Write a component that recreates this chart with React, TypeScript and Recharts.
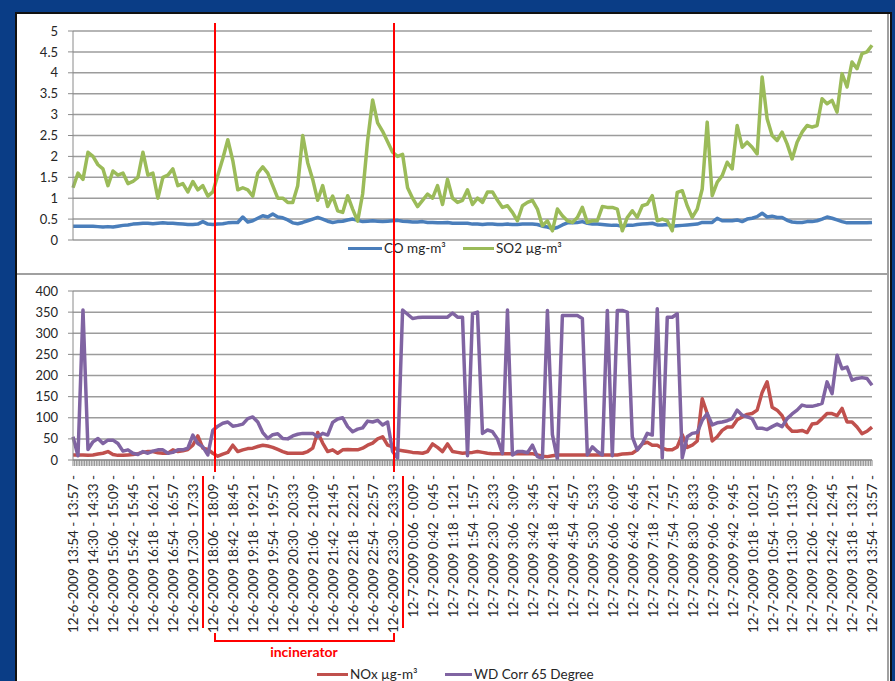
import { LineChart, Line, XAxis, YAxis, CartesianGrid } from 'recharts'

// one category every 9 minutes, 12-6-2009 13:54 .. 12-7-2009 13:54
const TICK_LABELS = [
  '12-6-2009 13:54 - 13:57 -', '12-6-2009 14:30 - 14:33 -', '12-6-2009 15:06 - 15:09 -',
  '12-6-2009 15:42 - 15:45 -', '12-6-2009 16:18 - 16:21 -', '12-6-2009 16:54 - 16:57 -',
  '12-6-2009 17:30 - 17:33 -', '12-6-2009 18:06 - 18:09 -', '12-6-2009 18:42 - 18:45 -',
  '12-6-2009 19:18 - 19:21 -', '12-6-2009 19:54 - 19:57 -', '12-6-2009 20:30 - 20:33 -',
  '12-6-2009 21:06 - 21:09 -', '12-6-2009 21:42 - 21:45 -', '12-6-2009 22:18 - 22:21 -',
  '12-6-2009 22:54 - 22:57 -', '12-6-2009 23:30 - 23:33 -', '12-7-2009 0:06 - 0:09 -',
  '12-7-2009 0:42 - 0:45 -', '12-7-2009 1:18 - 1:21 -', '12-7-2009 1:54 - 1:57 -',
  '12-7-2009 2:30 - 2:33 -', '12-7-2009 3:06 - 3:09 -', '12-7-2009 3:42 - 3:45 -',
  '12-7-2009 4:18 - 4:21 -', '12-7-2009 4:54 - 4:57 -', '12-7-2009 5:30 - 5:33 -',
  '12-7-2009 6:06 - 6:09 -', '12-7-2009 6:42 - 6:45 -', '12-7-2009 7:18 - 7:21 -',
  '12-7-2009 7:54 - 7:57 -', '12-7-2009 8:30 - 8:33 -', '12-7-2009 9:06 - 9:09 -',
  '12-7-2009 9:42 - 9:45 -', '12-7-2009 10:18 - 10:21 -', '12-7-2009 10:54 - 10:57 -',
  '12-7-2009 11:30 - 11:33 -', '12-7-2009 12:06 - 12:09 -', '12-7-2009 12:42 - 12:45 -',
  '12-7-2009 13:18 - 13:21 -', '12-7-2009 13:54 - 13:57 -',
]
const LABEL_EVERY = 4

const CO = [
  0.33, 0.33, 0.33, 0.33, 0.33, 0.32, 0.31, 0.32, 0.31, 0.33,
  0.35, 0.36, 0.38, 0.39, 0.4, 0.4, 0.39, 0.4, 0.41, 0.4,
  0.4, 0.39, 0.38, 0.37, 0.37, 0.38, 0.44, 0.38, 0.37, 0.38,
  0.39, 0.41, 0.42, 0.42, 0.55, 0.43, 0.46, 0.52, 0.58, 0.55,
  0.62, 0.55, 0.53, 0.48, 0.41, 0.39, 0.42, 0.46, 0.5, 0.54,
  0.5, 0.45, 0.42, 0.44, 0.45, 0.48, 0.5, 0.47, 0.44, 0.45,
  0.46, 0.45, 0.44, 0.45, 0.46, 0.47, 0.45, 0.44, 0.43, 0.43,
  0.44, 0.42, 0.42, 0.41, 0.41, 0.42, 0.4, 0.4, 0.4, 0.4,
  0.38, 0.38, 0.37, 0.38, 0.38, 0.37, 0.37, 0.38, 0.37, 0.37,
  0.38, 0.38, 0.38, 0.37, 0.33, 0.31, 0.27, 0.3, 0.36, 0.41,
  0.41, 0.42, 0.44, 0.4, 0.38, 0.38, 0.37, 0.36, 0.35, 0.35,
  0.33, 0.35, 0.35, 0.37, 0.38, 0.39, 0.4, 0.36, 0.36, 0.37,
  0.33, 0.34, 0.35, 0.36, 0.37, 0.38, 0.42, 0.42, 0.42, 0.52,
  0.46, 0.46, 0.46, 0.48, 0.44, 0.5, 0.52, 0.56, 0.64, 0.55,
  0.57, 0.54, 0.54, 0.47, 0.43, 0.42, 0.42, 0.44, 0.44, 0.46,
  0.5, 0.55, 0.52, 0.48, 0.44, 0.41, 0.41, 0.41, 0.41, 0.41, 0.42,
]

const SO2 = [
  1.25, 1.6, 1.45, 2.1, 2.0, 1.8, 1.7, 1.3, 1.65, 1.55,
  1.6, 1.35, 1.4, 1.5, 2.1, 1.55, 1.6, 1.0, 1.5, 1.55,
  1.7, 1.3, 1.35, 1.15, 1.4, 1.2, 1.3, 1.05, 1.15, 1.55,
  1.95, 2.4, 1.9, 1.2, 1.25, 1.2, 1.05, 1.6, 1.75, 1.6,
  1.3, 1.0, 1.0, 0.9, 0.9, 1.3, 2.5, 1.85, 1.45, 0.95,
  1.3, 0.8, 1.05, 0.7, 0.66, 1.06, 0.74, 0.45, 1.1, 2.38,
  3.35, 2.8, 2.6, 2.35, 2.1, 2.0, 2.05, 1.25, 1.0, 0.8,
  0.95, 1.1, 1.0, 1.3, 0.85, 1.45, 1.0, 0.9, 0.95, 1.2,
  0.85, 1.0, 0.9, 1.15, 1.15, 0.95, 0.78, 0.82, 0.66, 0.46,
  0.82, 0.9, 0.95, 0.74, 0.34, 0.46, 0.22, 0.74, 0.58, 0.46,
  0.42, 0.54, 0.78, 0.42, 0.46, 0.46, 0.8, 0.78, 0.78, 0.74,
  0.22, 0.54, 0.7, 0.54, 0.82, 0.86, 1.06, 0.46, 0.5, 0.46,
  0.22, 1.14, 1.18, 0.82, 0.54, 0.74, 1.22, 2.82, 1.06, 1.38,
  1.54, 1.86, 1.7, 2.74, 2.22, 2.34, 2.22, 2.06, 3.9, 2.9,
  2.5, 2.38, 2.58, 2.3, 1.94, 2.34, 2.58, 2.74, 2.7, 2.74,
  3.38, 3.26, 3.34, 3.06, 3.98, 3.66, 4.26, 4.1, 4.46, 4.5, 4.66,
]

const NOX = [
  12, 12, 12, 11, 12, 14, 16, 20, 13, 11,
  11, 12, 13, 15, 18, 20, 20, 17, 16, 16,
  24, 20, 22, 25, 35, 57, 28, 25, 16, 9,
  14, 18, 35, 20, 24, 27, 28, 32, 35, 33,
  30, 25, 20, 16, 16, 16, 16, 20, 28, 65,
  40, 20, 24, 16, 24, 25, 24, 24, 28, 35,
  40, 50, 55, 35, 31, 24, 22, 20, 18, 17,
  16, 20, 38, 30, 20, 38, 20, 18, 16, 17,
  18, 20, 18, 16, 15, 15, 15, 15, 15, 15,
  15, 15, 15, 12, 9, 8, 10, 12, 12, 12,
  12, 12, 12, 12, 12, 12, 12, 12, 12, 12,
  14, 15, 16, 24, 38, 42, 35, 35, 28, 24,
  24, 31, 60, 30, 35, 45, 145, 110, 45, 55,
  70, 78, 78, 95, 102, 108, 110, 118, 160, 185,
  125, 118, 105, 80, 68, 68, 70, 65, 85, 87,
  98, 110, 110, 105, 122, 90, 90, 78, 62, 68, 78,
]

const WD = [
  55, 10, 355, 25, 43, 51, 39, 47, 47, 39,
  21, 24, 16, 13, 20, 16, 21, 24, 24, 16,
  18, 24, 24, 28, 59, 39, 31, 12, 70, 80,
  87, 90, 80, 82, 85, 98, 102, 90, 65, 51,
  60, 62, 51, 50, 57, 61, 63, 63, 63, 55,
  63, 59, 89, 97, 100, 79, 67, 73, 76, 92,
  90, 94, 83, 90, 20, 4, 355, 345, 335, 337,
  338, 338, 338, 338, 338, 338, 348, 338, 338, 10,
  346, 350, 63, 71, 67, 50, 15, 355, 12, 20,
  20, 17, 35, 8, 4, 354, 60, 2, 342, 342,
  342, 342, 335, 12, 31, 20, 12, 354, 10, 354,
  354, 350, 55, 24, 39, 63, 59, 358, 5, 338,
  338, 346, 5, 55, 63, 65, 94, 110, 83, 88,
  90, 93, 98, 118, 106, 102, 98, 75, 75, 72,
  79, 85, 79, 98, 109, 118, 130, 127, 127, 130,
  134, 185, 157, 248, 216, 220, 189, 193, 195, 193, 177,
]

const TOP_TICKS = [0, 0.5, 1, 1.5, 2, 2.5, 3, 3.5, 4, 4.5, 5]
const BOTTOM_TICKS = [0, 50, 100, 150, 200, 250, 300, 350, 400]

const topData = CO.map((co, i) => ({ idx: i, co, so2: SO2[i] }))
const bottomData = NOX.map((nox, i) => ({ idx: i, nox, wd: WD[i] }))

const FONT = 'Lato, "Open Sans", sans-serif'
const GRID = '#9c9c9c'
const AXIS = '#8a8a8a'
const TEXT = '#262626'
const PLOT_LEFT = 73
const PLOT_RIGHT = 872
const STEP = (PLOT_RIGHT - PLOT_LEFT) / (CO.length - 1)
const LINE_W = 3.5

// every category gets 3 tick marks (3-minute readings), every 4th one a label
const DateTick = (props: any) => {
  const { x, y, payload } = props
  const i = payload.value as number
  const marks = i < CO.length - 1 ? [0, 1, 2] : [0]
  const label = i % LABEL_EVERY === 0 ? TICK_LABELS[i / LABEL_EVERY] : null
  const ty = y + 15
  return (
    <g>
      {marks.map((k) => (
        <line key={k} x1={x + (k * STEP) / 3} x2={x + (k * STEP) / 3} y1={y} y2={y + 6} stroke={AXIS} strokeWidth={1} />
      ))}
      {label && (
        <text
          x={x}
          y={ty}
          dy="0.4em"
          transform={`rotate(-90 ${x} ${ty})`}
          textAnchor="end"
          fontSize={13.5}
          fontFamily={FONT}
          fill={TEXT}
        >
          {label}
        </text>
      )}
    </g>
  )
}

const LegendItem = ({ x, y, w, color, label }: { x: number; y: number; w: number; color: string; label: string }) => (
  <>
    <div style={{ position: 'absolute', left: x, top: y - 1.5, width: w, height: 3, background: color }} />
    <div
      style={{
        position: 'absolute',
        left: x + w + 2,
        top: y - 9,
        height: 18,
        lineHeight: '18px',
        fontSize: 13.5,
        color: TEXT,
        whiteSpace: 'nowrap',
      }}
    >
      {label}
    </div>
  </>
)

const yTick = { fontSize: 13, fill: TEXT, fontFamily: FONT }

export default function App() {
  return (
    <div style={{ position: 'absolute', left: 0, top: 0, width: 895, height: 681, background: '#0a3d86', overflow: 'hidden', fontFamily: FONT }}>
      <div
        style={{
          position: 'absolute',
          left: 15,
          top: 12,
          width: 877,
          height: 680,
          background: '#fff',
          borderTop: '2px solid #111',
          borderLeft: '2px solid #111',
          borderRight: '2px solid #111',
          boxSizing: 'border-box',
        }}
      />
      <div style={{ position: 'absolute', left: 887, top: 14, width: 2, height: 667, background: '#a0a0a0' }} />
      <div style={{ position: 'absolute', left: 17, top: 273, width: 870, height: 2, background: '#a0a0a0' }} />

      <div style={{ position: 'absolute', left: 0, top: 0 }}>
        <LineChart width={895} height={273} data={topData} margin={{ top: 31, right: 895 - PLOT_RIGHT, bottom: 33, left: 0 }}>
          <CartesianGrid vertical={false} stroke={GRID} strokeWidth={1.5} />
          <XAxis dataKey="idx" height={0} tick={false} tickLine={false} axisLine={{ stroke: AXIS }} />
          <YAxis
            width={PLOT_LEFT}
            domain={[0, 5]}
            ticks={TOP_TICKS}
            interval={0}
            tick={yTick}
            tickSize={5}
            tickMargin={10}
            axisLine={{ stroke: AXIS }}
            tickLine={{ stroke: AXIS }}
          />
          <Line type="linear" dataKey="co" stroke="#4a7ebb" strokeWidth={LINE_W} strokeLinejoin="round" dot={false} isAnimationActive={false} />
          <Line type="linear" dataKey="so2" stroke="#9bbb59" strokeWidth={LINE_W} strokeLinejoin="round" dot={false} isAnimationActive={false} />
        </LineChart>
      </div>

      <div style={{ position: 'absolute', left: 0, top: 273 }}>
        <LineChart width={895} height={408} data={bottomData} margin={{ top: 18, right: 895 - PLOT_RIGHT, bottom: 0, left: 0 }}>
          <CartesianGrid vertical={false} stroke={GRID} strokeWidth={1.5} />
          <XAxis
            dataKey="idx"
            height={221}
            interval={0}
            tick={<DateTick />}
            tickLine={false}
            tickSize={0}
            tickMargin={0}
            axisLine={{ stroke: AXIS }}
          />
          <YAxis
            width={PLOT_LEFT}
            domain={[0, 400]}
            ticks={BOTTOM_TICKS}
            interval={0}
            tick={yTick}
            tickSize={5}
            tickMargin={10}
            axisLine={{ stroke: AXIS }}
            tickLine={{ stroke: AXIS }}
          />
          <Line type="linear" dataKey="nox" stroke="#c0504d" strokeWidth={LINE_W} strokeLinejoin="round" dot={false} isAnimationActive={false} />
          <Line type="linear" dataKey="wd" stroke="#8064a2" strokeWidth={LINE_W} strokeLinejoin="round" dot={false} isAnimationActive={false} />
        </LineChart>
      </div>

      <LegendItem x={348} y={248} w={34} color="#4a7ebb" label="CO mg-m³" />
      <LegendItem x={463} y={248} w={31} color="#9bbb59" label="SO2 µg-m³" />
      <LegendItem x={317} y={674} w={31} color="#c0504d" label="NOx µg-m³" />
      <LegendItem x={445} y={674} w={27} color="#8064a2" label="WD Corr 65 Degree" />

      {/* incinerator period markers */}
      <svg width={895} height={681} style={{ position: 'absolute', left: 0, top: 0, pointerEvents: 'none' }}>
        <g stroke="#ff0000" strokeWidth={2} fill="none">
          <line x1={215} x2={215} y1={23} y2={472} />
          <line x1={394} x2={394} y1={23} y2={472} />
          <line x1={203} x2={203} y1={476} y2={628} />
          <line x1={403} x2={403} y1={476} y2={628} />
          <polyline points="215,633 215,641 394,641 394,633" />
        </g>
        <text x={304} y={657} textAnchor="middle" fontSize={14} fontWeight="bold" fill="#ff0000" fontFamily={FONT}>
          incinerator
        </text>
      </svg>
    </div>
  )
}
